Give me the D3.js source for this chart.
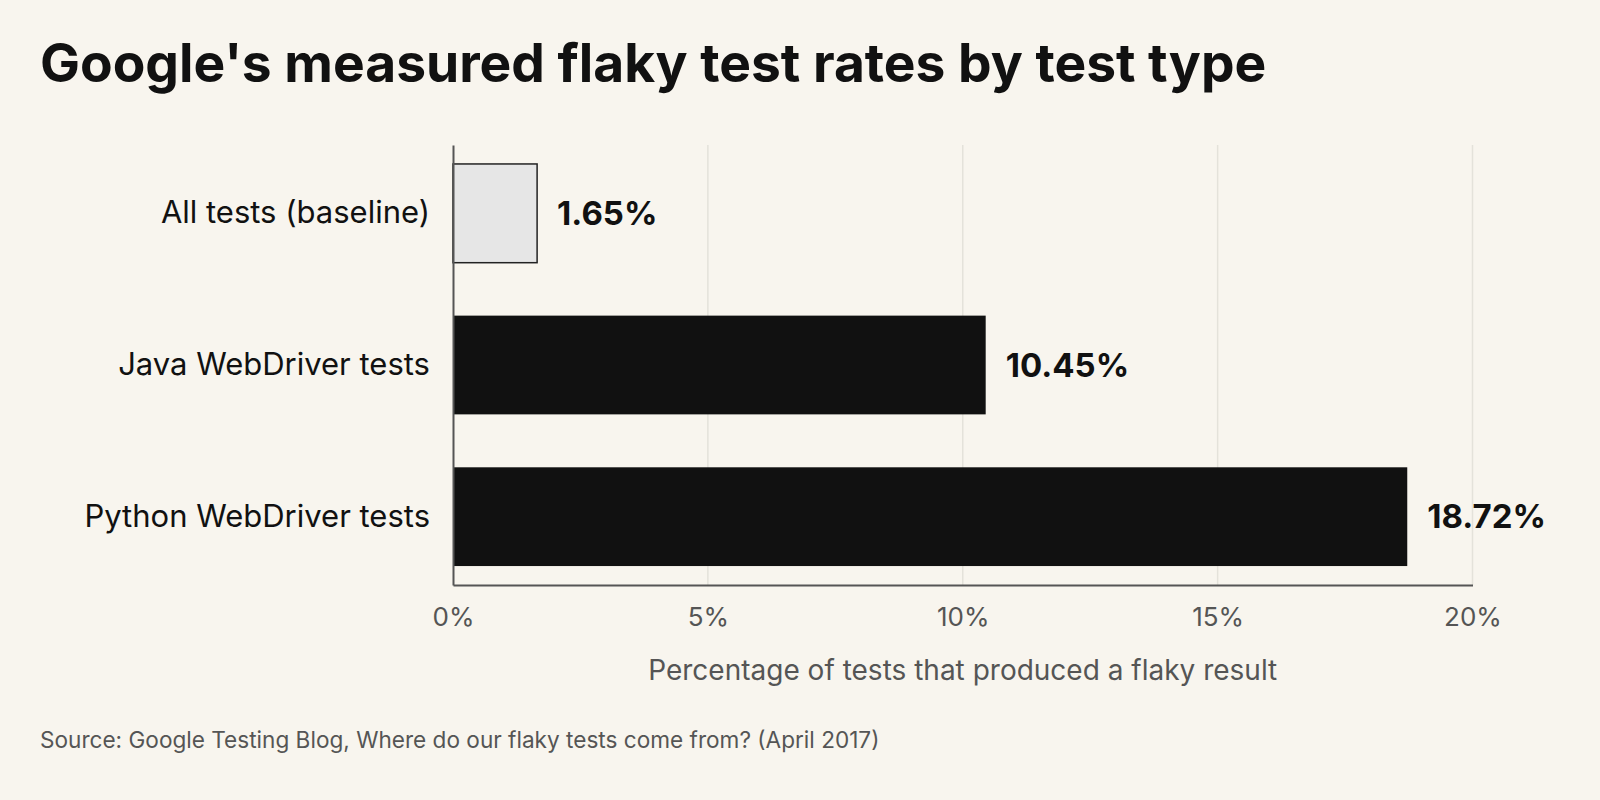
<!DOCTYPE html>
<html><head><meta charset="utf-8">
<script src="https://cdn.jsdelivr.net/npm/d3@7"></script>
<style>
html,body{margin:0;padding:0;background:#f8f5ee;}
svg{display:block;font-family:Inter,"Noto Sans",sans-serif;}
</style></head>
<body><svg id="c" width="1600" height="800"></svg>
<script>
const categories = ["All tests (baseline)", "Java WebDriver tests", "Python WebDriver tests"];
const values = [1.65, 10.45, 18.72];
const tickValues = [0, 5, 10, 15, 20];
const title = "Google's measured flaky test rates by test type";
const xTitle = "Percentage of tests that produced a flaky result";
const source = "Source: Google Testing Blog, Where do our flaky tests come from? (April 2017)";

const svg = d3.select("#c");
svg.append("rect").attr("width",1600).attr("height",800).attr("fill","#f8f5ee");

const x = d3.scaleLinear().domain([0,20]).range([453,1472.5]);
const y = d3.scaleBand().domain(categories).range([145,585]).paddingInner(0.349).paddingOuter(0.125);

// gridlines
svg.append("g").selectAll("line").data(tickValues.filter(d=>d>0)).join("line")
  .attr("x1",d=>x(d)).attr("x2",d=>x(d)).attr("y1",145).attr("y2",585)
  .attr("stroke","#e4e2da").attr("stroke-width",1.5);

// bars
svg.append("g").selectAll("rect").data(categories).join("rect")
  .attr("x",x(0)).attr("y",d=>y(d)).attr("height",y.bandwidth())
  .attr("width",(d,i)=>x(values[i])-x(0))
  .attr("fill",(d,i)=>i===0?"#e6e6e6":"#111111")
  .attr("stroke",(d,i)=>i===0?"#222":"none").attr("stroke-width",1.5);

// value labels
svg.append("g").selectAll("text").data(categories).join("text")
  .attr("x",(d,i)=>x(values[i])+20).attr("y",d=>y(d)+y.bandwidth()/2)
  .attr("dy","0.35em").attr("font-size",33).attr("font-weight",700).attr("fill","#111")
  .text((d,i)=>values[i].toFixed(2)+"%");

// axes
const xAxis = d3.axisBottom(x).tickValues(tickValues).tickSize(0).tickPadding(23).tickFormat(d=>d+"%");
const gx = svg.append("g").attr("transform","translate(0,585)").call(xAxis);
gx.select(".domain").attr("stroke","#555").attr("stroke-width",2);
gx.selectAll("text").attr("font-size",26).attr("fill","#555").attr("font-family","Inter");

const yAxis = d3.axisLeft(y).tickSize(0).tickPadding(23);
const gy = svg.append("g").attr("transform","translate(453,0)").call(yAxis);
gy.select(".domain").attr("stroke","#555").attr("stroke-width",2);
gy.selectAll("text").attr("font-size",31).attr("fill","#111").attr("font-family","Inter");

// titles
svg.append("text").attr("x",40).attr("y",82).attr("font-size",53.3).attr("font-weight",700).attr("fill","#111").text(title);
svg.append("text").attr("x",(x(0)+x(20))/2).attr("y",680).attr("text-anchor","middle").attr("font-size",28).attr("fill","#555").text(xTitle);
svg.append("text").attr("x",40).attr("y",748).attr("font-size",22.6).attr("fill","#555").text(source);
</script></body></html>
